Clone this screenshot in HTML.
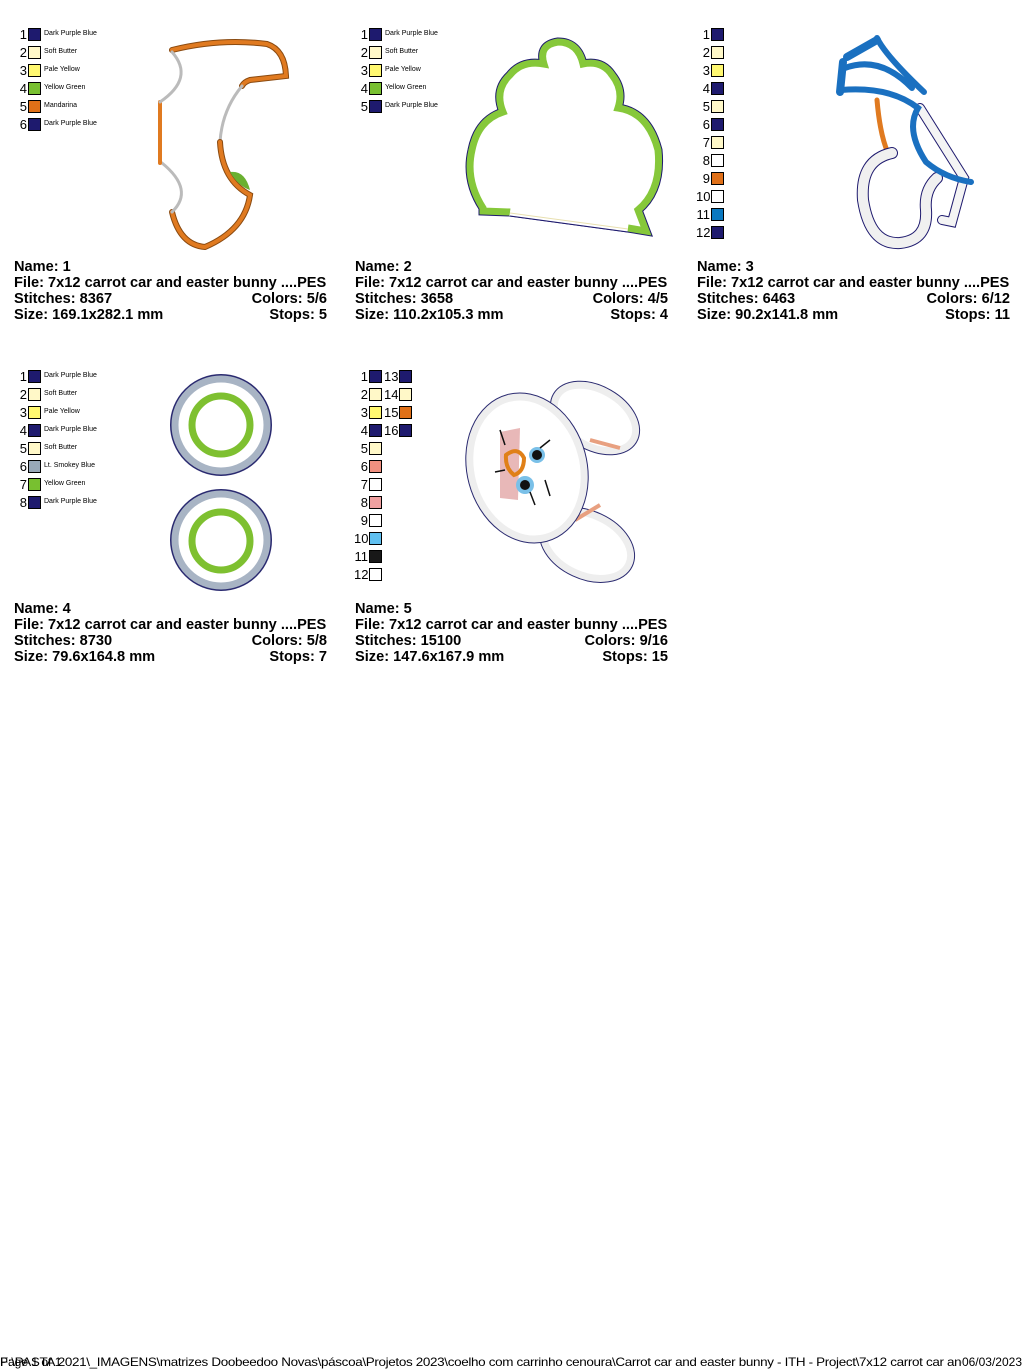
<!DOCTYPE html>
<html><head><meta charset="utf-8"><style>
body{margin:0;width:1024px;height:1370px;background:#fff;position:relative;overflow:hidden;font-family:"Liberation Sans",sans-serif}
.n{position:absolute;font-size:13px;line-height:13px;color:#000;text-align:right;width:14px}
.s{position:absolute;width:11px;height:11px;border:1px solid #000}
.l{position:absolute;font-size:7px;line-height:12px;color:#000;white-space:nowrap}
.info{position:absolute;width:313px;font-weight:bold;font-size:14.6px;line-height:16px;color:#000;white-space:nowrap}
.info div{display:flex;justify-content:space-between}
svg{position:absolute;left:0;top:0}
.foot{position:absolute;left:0;top:1355px;font-size:12px;white-space:nowrap;letter-spacing:-0.3px;transform:scaleX(1.12);transform-origin:left}
</style></head><body>

<svg width="1024" height="700">
<!-- shape 1 -->
<g fill="none" stroke-linecap="round">
<path d="M172,50 Q220,38 267,44 Q285,50 286,76 L250,80 Q244,82 242,86" stroke="#8a4a10" stroke-width="6"/>
<path d="M172,50 Q220,38 267,44 Q285,50 286,76 L250,80 Q244,82 242,86" stroke="#e07a20" stroke-width="4"/>
<path d="M242,86 Q222,110 220,142" stroke="#bbb" stroke-width="3"/>
<path d="M220,142 Q222,180 250,195 Q245,230 205,247 Q180,245 172,212" stroke="#8a4a10" stroke-width="6"/>
<path d="M220,142 Q222,180 250,195 Q245,230 205,247 Q180,245 172,212" stroke="#e07a20" stroke-width="4"/>
<path d="M172,212 Q195,190 162,163" stroke="#bbb" stroke-width="3"/>
<path d="M160,163 L160,102" stroke="#e07a20" stroke-width="4"/>
<path d="M160,102 Q195,78 172,52" stroke="#bbb" stroke-width="3"/>
</g>
<path d="M230,172 Q245,170 250,190 Q238,186 230,172Z" fill="#6ab030"/>
<!-- shape 2 -->
<path d="M483,208 Q465,180 472,150 Q478,120 503,112 Q494,90 510,75 Q522,60 544,64 Q538,45 558,42 Q578,42 583,64 Q602,60 612,75 Q624,90 618,108 Q648,112 658,150 Q662,190 638,210 L646,231 L628,228 L510,212 L483,211Z" fill="none" stroke="#1e1a6e" stroke-width="9"/>
<path d="M483,208 Q465,180 472,150 Q478,120 503,112 Q494,90 510,75 Q522,60 544,64 Q538,45 558,42 Q578,42 583,64 Q602,60 612,75 Q624,90 618,108 Q648,112 658,150 Q662,190 638,210 L646,231 L628,228 L510,212 L483,211Z" fill="#fff" stroke="#86c83a" stroke-width="7"/>
<path d="M510,212 L628,228" stroke="#fff" stroke-width="8"/>
<path d="M510,213 L628,229" stroke="#e8e0b0" stroke-width="1"/>
<path d="M510,216 L628,232" stroke="#1e1a6e" stroke-width="1"/>
<!-- shape 3 -->
<g fill="none" stroke-linecap="round">
<path d="M877,100 Q880,135 888,153" stroke="#e07a20" stroke-width="5"/>
<path d="M892,153 Q860,160 863,200 Q870,245 900,243 Q928,240 926,210 Q924,190 937,178" stroke="#1e1a6e" stroke-width="12"/>
<path d="M892,153 Q860,160 863,200 Q870,245 900,243 Q928,240 926,210 Q924,190 937,178" stroke="#f0f0f0" stroke-width="10"/>
<path d="M920,108 Q940,140 964,178 L952,222 L942,220" stroke="#1e1a6e" stroke-width="10"/>
<path d="M920,108 Q940,140 964,178 L952,222 L942,220" stroke="#f4f4f4" stroke-width="8"/>
<path d="M845,68 Q880,55 912,88 M877,38 Q885,55 924,92 M841,90 Q890,86 918,108 Q905,130 926,162 Q945,178 971,182" stroke="#1a70c0" stroke-width="6"/>
<path d="M847,57 L877,40 M843,62 L840,92" stroke="#1a70c0" stroke-width="8"/>
</g>
<!-- shape 4 -->
<circle cx="221" cy="425" r="47" fill="none" stroke="#2a2a70" stroke-width="8"/>
<circle cx="221" cy="425" r="46" fill="none" stroke="#a8b4c4" stroke-width="7"/>
<circle cx="221" cy="425" r="29" fill="none" stroke="#7ec030" stroke-width="7"/>
<circle cx="221" cy="540" r="47" fill="none" stroke="#2a2a70" stroke-width="8"/>
<circle cx="221" cy="540" r="46" fill="none" stroke="#a8b4c4" stroke-width="7"/>
<circle cx="221" cy="541" r="29" fill="none" stroke="#7ec030" stroke-width="7"/>
<!-- shape 5 -->
<g>
<ellipse cx="595" cy="418" rx="28" ry="44" transform="rotate(-60 595 418)" fill="#fff" stroke="#2a2a70" stroke-width="9"/>
<ellipse cx="595" cy="418" rx="28" ry="44" transform="rotate(-60 595 418)" fill="#fff" stroke="#eee" stroke-width="7"/>
<ellipse cx="587" cy="545" rx="30" ry="46" transform="rotate(-65 587 545)" fill="#fff" stroke="#2a2a70" stroke-width="9"/>
<ellipse cx="587" cy="545" rx="30" ry="46" transform="rotate(-65 587 545)" fill="#fff" stroke="#eee" stroke-width="7"/>
<path d="M590,440 L620,448 M575,520 L600,505" stroke="#e8a080" stroke-width="4"/>
<ellipse cx="527" cy="468" rx="56" ry="72" transform="rotate(-15 527 468)" fill="#fff" stroke="#2a2a70" stroke-width="9"/>
<ellipse cx="527" cy="468" rx="56" ry="72" transform="rotate(-15 527 468)" fill="#fff" stroke="#eee" stroke-width="7"/>
<path d="M500,432 L520,428 L518,500 L500,498Z" fill="#e8b8b8"/>
<circle cx="537" cy="455" r="8" fill="#7ac0e8"/><circle cx="525" cy="485" r="9" fill="#7ac0e8"/>
<circle cx="537" cy="455" r="5" fill="#111"/><circle cx="525" cy="485" r="5" fill="#111"/>
<path d="M505,470 L495,472 M505,445 L500,430 M540,448 L550,440 M530,492 L535,505 M545,480 L550,496" stroke="#111" stroke-width="1.5"/>
<path d="M506,455 Q518,446 524,458 Q524,472 514,475 Q505,468 506,455Z" fill="none" stroke="#e08018" stroke-width="4"/>
</g>
</svg>

<!-- legend 1 -->
<div class="n" style="left:13px;top:28px">1</div><div class="s" style="left:28px;top:28px;background:#1e1a6e"></div><div class="l" style="left:44px;top:28px">Dark Purple Blue</div>
<div class="n" style="left:13px;top:46px">2</div><div class="s" style="left:28px;top:46px;background:#fff8c8"></div><div class="l" style="left:44px;top:46px">Soft Butter</div>
<div class="n" style="left:13px;top:64px">3</div><div class="s" style="left:28px;top:64px;background:#fff870"></div><div class="l" style="left:44px;top:64px">Pale Yellow</div>
<div class="n" style="left:13px;top:82px">4</div><div class="s" style="left:28px;top:82px;background:#78c030"></div><div class="l" style="left:44px;top:82px">Yellow Green</div>
<div class="n" style="left:13px;top:100px">5</div><div class="s" style="left:28px;top:100px;background:#e07018"></div><div class="l" style="left:44px;top:100px">Mandarina</div>
<div class="n" style="left:13px;top:118px">6</div><div class="s" style="left:28px;top:118px;background:#1e1a6e"></div><div class="l" style="left:44px;top:118px">Dark Purple Blue</div>

<!-- legend 2 -->
<div class="n" style="left:354px;top:28px">1</div><div class="s" style="left:369px;top:28px;background:#1e1a6e"></div><div class="l" style="left:385px;top:28px">Dark Purple Blue</div>
<div class="n" style="left:354px;top:46px">2</div><div class="s" style="left:369px;top:46px;background:#fff8c8"></div><div class="l" style="left:385px;top:46px">Soft Butter</div>
<div class="n" style="left:354px;top:64px">3</div><div class="s" style="left:369px;top:64px;background:#fff870"></div><div class="l" style="left:385px;top:64px">Pale Yellow</div>
<div class="n" style="left:354px;top:82px">4</div><div class="s" style="left:369px;top:82px;background:#78c030"></div><div class="l" style="left:385px;top:82px">Yellow Green</div>
<div class="n" style="left:354px;top:100px">5</div><div class="s" style="left:369px;top:100px;background:#1e1a6e"></div><div class="l" style="left:385px;top:100px">Dark Purple Blue</div>

<!-- legend 3 -->
<div class="n" style="left:696px;top:28px">1</div><div class="s" style="left:711px;top:28px;background:#1e1a6e"></div>
<div class="n" style="left:696px;top:46px">2</div><div class="s" style="left:711px;top:46px;background:#fff8c8"></div>
<div class="n" style="left:696px;top:64px">3</div><div class="s" style="left:711px;top:64px;background:#fff870"></div>
<div class="n" style="left:696px;top:82px">4</div><div class="s" style="left:711px;top:82px;background:#1e1a6e"></div>
<div class="n" style="left:696px;top:100px">5</div><div class="s" style="left:711px;top:100px;background:#fff8c8"></div>
<div class="n" style="left:696px;top:118px">6</div><div class="s" style="left:711px;top:118px;background:#1e1a6e"></div>
<div class="n" style="left:696px;top:136px">7</div><div class="s" style="left:711px;top:136px;background:#fff8c8"></div>
<div class="n" style="left:696px;top:154px">8</div><div class="s" style="left:711px;top:154px;background:#fff"></div>
<div class="n" style="left:696px;top:172px">9</div><div class="s" style="left:711px;top:172px;background:#e07018"></div>
<div class="n" style="left:696px;top:190px">10</div><div class="s" style="left:711px;top:190px;background:#fff"></div>
<div class="n" style="left:696px;top:208px">11</div><div class="s" style="left:711px;top:208px;background:#0a78c0"></div>
<div class="n" style="left:696px;top:226px">12</div><div class="s" style="left:711px;top:226px;background:#1e1a6e"></div>

<!-- legend 4 -->
<div class="n" style="left:13px;top:370px">1</div><div class="s" style="left:28px;top:370px;background:#1e1a6e"></div><div class="l" style="left:44px;top:370px">Dark Purple Blue</div>
<div class="n" style="left:13px;top:388px">2</div><div class="s" style="left:28px;top:388px;background:#fff8c8"></div><div class="l" style="left:44px;top:388px">Soft Butter</div>
<div class="n" style="left:13px;top:406px">3</div><div class="s" style="left:28px;top:406px;background:#fff870"></div><div class="l" style="left:44px;top:406px">Pale Yellow</div>
<div class="n" style="left:13px;top:424px">4</div><div class="s" style="left:28px;top:424px;background:#1e1a6e"></div><div class="l" style="left:44px;top:424px">Dark Purple Blue</div>
<div class="n" style="left:13px;top:442px">5</div><div class="s" style="left:28px;top:442px;background:#fff8c8"></div><div class="l" style="left:44px;top:442px">Soft Butter</div>
<div class="n" style="left:13px;top:460px">6</div><div class="s" style="left:28px;top:460px;background:#98a8b8"></div><div class="l" style="left:44px;top:460px">Lt. Smokey Blue</div>
<div class="n" style="left:13px;top:478px">7</div><div class="s" style="left:28px;top:478px;background:#78c030"></div><div class="l" style="left:44px;top:478px">Yellow Green</div>
<div class="n" style="left:13px;top:496px">8</div><div class="s" style="left:28px;top:496px;background:#1e1a6e"></div><div class="l" style="left:44px;top:496px">Dark Purple Blue</div>

<!-- legend 5 -->
<div class="n" style="left:354px;top:370px">1</div><div class="s" style="left:369px;top:370px;background:#1e1a6e"></div>
<div class="n" style="left:354px;top:388px">2</div><div class="s" style="left:369px;top:388px;background:#fff8c8"></div>
<div class="n" style="left:354px;top:406px">3</div><div class="s" style="left:369px;top:406px;background:#fff870"></div>
<div class="n" style="left:354px;top:424px">4</div><div class="s" style="left:369px;top:424px;background:#1e1a6e"></div>
<div class="n" style="left:354px;top:442px">5</div><div class="s" style="left:369px;top:442px;background:#fff8c8"></div>
<div class="n" style="left:354px;top:460px">6</div><div class="s" style="left:369px;top:460px;background:#f09080"></div>
<div class="n" style="left:354px;top:478px">7</div><div class="s" style="left:369px;top:478px;background:#fff"></div>
<div class="n" style="left:354px;top:496px">8</div><div class="s" style="left:369px;top:496px;background:#f0a0a0"></div>
<div class="n" style="left:354px;top:514px">9</div><div class="s" style="left:369px;top:514px;background:#fff"></div>
<div class="n" style="left:354px;top:532px">10</div><div class="s" style="left:369px;top:532px;background:#60c0f0"></div>
<div class="n" style="left:354px;top:550px">11</div><div class="s" style="left:369px;top:550px;background:#181818"></div>
<div class="n" style="left:354px;top:568px">12</div><div class="s" style="left:369px;top:568px;background:#fff"></div>
<div class="n" style="left:384px;top:370px">13</div><div class="s" style="left:399px;top:370px;background:#1e1a6e"></div>
<div class="n" style="left:384px;top:388px">14</div><div class="s" style="left:399px;top:388px;background:#fff8c8"></div>
<div class="n" style="left:384px;top:406px">15</div><div class="s" style="left:399px;top:406px;background:#e07018"></div>
<div class="n" style="left:384px;top:424px">16</div><div class="s" style="left:399px;top:424px;background:#1e1a6e"></div>

<div class="info" style="left:14px;top:259px"><div>Name: 1</div><div>File: 7x12 carrot car and easter bunny ....PES</div><div><span>Stitches: 8367</span><span>Colors: 5/6</span></div><div><span>Size: 169.1x282.1 mm</span><span>Stops: 5</span></div></div>
<div class="info" style="left:355px;top:259px"><div>Name: 2</div><div>File: 7x12 carrot car and easter bunny ....PES</div><div><span>Stitches: 3658</span><span>Colors: 4/5</span></div><div><span>Size: 110.2x105.3 mm</span><span>Stops: 4</span></div></div>
<div class="info" style="left:697px;top:259px"><div>Name: 3</div><div>File: 7x12 carrot car and easter bunny ....PES</div><div><span>Stitches: 6463</span><span>Colors: 6/12</span></div><div><span>Size: 90.2x141.8 mm</span><span>Stops: 11</span></div></div>
<div class="info" style="left:14px;top:601px"><div>Name: 4</div><div>File: 7x12 carrot car and easter bunny ....PES</div><div><span>Stitches: 8730</span><span>Colors: 5/8</span></div><div><span>Size: 79.6x164.8 mm</span><span>Stops: 7</span></div></div>
<div class="info" style="left:355px;top:601px"><div>Name: 5</div><div>File: 7x12 carrot car and easter bunny ....PES</div><div><span>Stitches: 15100</span><span>Colors: 9/16</span></div><div><span>Size: 147.6x167.9 mm</span><span>Stops: 15</span></div></div>

<div class="foot">F:\PASTA 2021\_IMAGENS\matrizes Doobeedoo Novas\páscoa\Projetos 2023\coelho com carrinho cenoura\Carrot car and easter bunny - ITH - Project\7x12 carrot car and easter</div>
<div style="position:absolute;left:0;top:1355px;font-size:12px">Page 1 of 1</div>
<div style="position:absolute;right:2px;top:1355px;font-size:12px;background:#fff">06/03/2023</div>
</body></html>
